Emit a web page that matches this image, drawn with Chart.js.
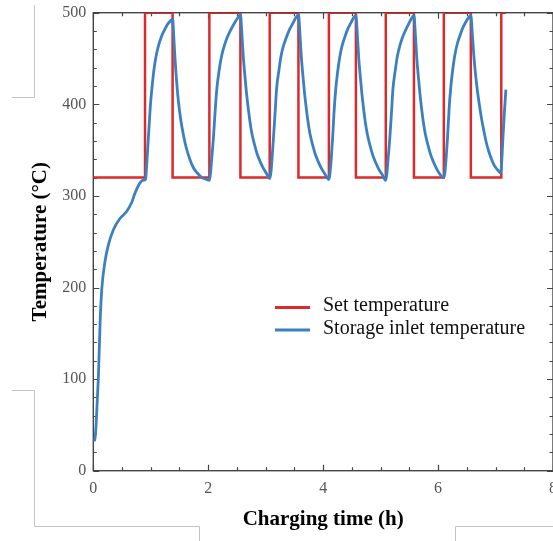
<!DOCTYPE html>
<html><head><meta charset="utf-8">
<script src="https://cdn.jsdelivr.net/npm/chart.js@4/dist/chart.umd.min.js"></script>
<style>html,body{margin:0;padding:0;background:#fff;}canvas{display:block;}</style>
</head><body>
<canvas id="c" width="553" height="541"></canvas>
<script>
// ---- data ----
const setTimes = [0, 0.90, 1.38, 2.02, 2.56, 3.07, 3.57, 4.10, 4.57, 5.09, 5.58, 6.10, 6.57, 7.10, 7.18];
const setTemps = [320, 500, 320, 500, 320, 500, 320, 500, 320, 500, 320, 500, 320, 500, 500];

const inletTimes = [
  0.02, 0.035, 0.05, 0.07, 0.09, 0.12, 0.15, 0.20, 0.26, 0.35, 0.46, 0.58, 0.67, 0.72, 0.80, 0.86, 0.91,
  0.925, 0.945, 0.97, 0.995, 1.02, 1.05, 1.085, 1.13, 1.18, 1.23, 1.29, 1.34, 1.38,
  1.40, 1.42, 1.45, 1.48, 1.52, 1.57, 1.62, 1.68, 1.74, 1.81, 1.89, 1.97, 2.02,
  2.04, 2.06, 2.09, 2.12, 2.15, 2.19, 2.23, 2.28, 2.33, 2.39, 2.45, 2.51, 2.56,
  2.585, 2.61, 2.64, 2.67, 2.72, 2.76, 2.81, 2.85, 2.90, 2.96, 3.02, 3.07,
  3.09, 3.11, 3.135, 3.165, 3.19, 3.23, 3.265, 3.31, 3.36, 3.41, 3.47, 3.52, 3.57,
  3.595, 3.62, 3.65, 3.68, 3.73, 3.77, 3.82, 3.86, 3.91, 3.97, 4.03, 4.10,
  4.12, 4.14, 4.165, 4.19, 4.22, 4.255, 4.29, 4.33, 4.375, 4.42, 4.475, 4.525, 4.57,
  4.595, 4.62, 4.65, 4.68, 4.73, 4.77, 4.82, 4.86, 4.91, 4.97, 5.03, 5.09,
  5.11, 5.13, 5.16, 5.19, 5.215, 5.255, 5.29, 5.335, 5.38, 5.435, 5.49, 5.54, 5.58,
  5.605, 5.63, 5.66, 5.69, 5.74, 5.78, 5.83, 5.87, 5.92, 5.98, 6.04, 6.10,
  6.12, 6.14, 6.165, 6.19, 6.22, 6.255, 6.29, 6.33, 6.375, 6.42, 6.475, 6.525, 6.57,
  6.595, 6.62, 6.65, 6.68, 6.72, 6.76, 6.80, 6.84, 6.88, 6.93, 6.98, 7.04, 7.09,
  7.11, 7.13, 7.155, 7.18
];
const inletTemps = [
  32, 38, 52, 78, 105, 165, 200, 227, 246, 263, 275, 283, 293, 302, 313, 317, 318,
  330, 350, 375, 400, 417, 435, 450, 463, 473, 480, 487, 491, 493,
  475, 452, 425, 404, 384, 366, 352, 340, 331, 325, 320, 318, 317,
  325, 340, 363, 392, 417, 437, 452, 464, 473, 481, 488, 494, 498,
  478, 452, 430, 410, 384, 368, 355, 346, 338, 330, 324, 319,
  325, 340, 363, 392, 417, 437, 452, 464, 473, 481, 488, 494, 498,
  478, 452, 430, 410, 384, 368, 355, 346, 338, 330, 324, 318,
  325, 340, 363, 392, 417, 437, 452, 464, 473, 481, 488, 494, 497,
  476, 450, 428, 408, 382, 367, 354, 345, 337, 329, 323, 317,
  325, 340, 363, 392, 417, 437, 452, 464, 473, 481, 488, 494, 497,
  476, 450, 428, 408, 382, 367, 354, 345, 337, 329, 323, 320,
  326, 341, 364, 393, 418, 438, 453, 465, 474, 482, 489, 494, 497,
  478, 455, 434, 417, 399, 383, 370, 358, 349, 340, 333, 328, 325,
  340, 365, 392, 416
];

const xTickValues = [0, 2, 4, 6, 8];
const yTickValues = [0, 100, 200, 300, 400, 500];
const seriesNames = ['Set temperature', 'Storage inlet temperature'];
const seriesColors = ['#dc2a2c', '#3b80bf'];
const xTitle = 'Charging time (h)';
const yTitle = 'Temperature (°C)';

const SERIF = "'Liberation Serif', 'DejaVu Serif', serif";

const setData = setTimes.map((t, i) => ({x: t, y: setTemps[i]}));
const inletData = inletTimes.map((t, i) => ({x: t, y: inletTemps[i]}));

// frame with inward ticks on all four sides
const framePlugin = {
  id: 'frame',
  beforeDatasetsDraw(chart) {
    const {ctx, chartArea: a, scales: {x, y}} = chart;
    ctx.save();
    ctx.strokeStyle = '#444';
    ctx.lineWidth = 1.4;
    ctx.strokeRect(a.left, a.top, a.right - a.left, a.bottom - a.top);
    ctx.lineWidth = 1.2;
    ctx.beginPath();
    for (let v = 0; v <= 8.001; v += 0.5) {
      const px = Math.round(x.getPixelForValue(v)) + 0.5;
      const major = Math.abs(v / 2 - Math.round(v / 2)) < 1e-6;
      const len = major ? 6 : 3.5;
      ctx.moveTo(px, a.bottom); ctx.lineTo(px, a.bottom - len);
      ctx.moveTo(px, a.top); ctx.lineTo(px, a.top + len);
    }
    for (let v = 0; v <= 500.001; v += 20) {
      const py = Math.round(y.getPixelForValue(v)) + 0.5;
      const major = v % 100 === 0;
      const len = major ? 6 : 3.5;
      ctx.moveTo(a.left, py); ctx.lineTo(a.left + len, py);
      ctx.moveTo(a.right, py); ctx.lineTo(a.right - len, py);
    }
    ctx.stroke();
    ctx.restore();
  }
};

// legend inside the plot
const legendPlugin = {
  id: 'inlineLegend',
  afterDatasetsDraw(chart) {
    const {ctx} = chart;
    ctx.save();
    ctx.font = '20px ' + SERIF;
    ctx.fillStyle = '#111';
    ctx.textAlign = 'left';
    ctx.textBaseline = 'alphabetic';
    const rows = [307.5, 330];
    seriesNames.forEach((name, i) => {
      const yy = rows[i];
      ctx.strokeStyle = seriesColors[i];
      ctx.lineWidth = 3;
      ctx.beginPath(); ctx.moveTo(275, yy); ctx.lineTo(310, yy); ctx.stroke();
      ctx.fillText(name, 323, yy + 3.5);
    });
    ctx.restore();
  }
};

// faint screenshot guide lines present in the reference
const guidePlugin = {
  id: 'guides',
  afterDraw(chart) {
    const {ctx} = chart;
    ctx.save();
    ctx.strokeStyle = '#c4c4c4';
    ctx.lineWidth = 1;
    ctx.beginPath();
    ctx.moveTo(34.5, 5); ctx.lineTo(34.5, 97.5); ctx.lineTo(12, 97.5);
    ctx.moveTo(12, 390.5); ctx.lineTo(34.5, 390.5); ctx.lineTo(34.5, 526.5); ctx.lineTo(199.5, 526.5); ctx.lineTo(199.5, 541);
    ctx.moveTo(455.5, 541); ctx.lineTo(455.5, 526.5); ctx.lineTo(553, 526.5);
    ctx.stroke();
    ctx.restore();
  }
};

new Chart(document.getElementById('c'), {
  type: 'line',
  data: {
    datasets: [
      {
        label: seriesNames[0], data: setData, borderColor: seriesColors[0], backgroundColor: seriesColors[0],
        borderWidth: 2.5, pointRadius: 0, stepped: true, fill: false, order: 1
      },
      {
        label: seriesNames[1], data: inletData, borderColor: seriesColors[1], backgroundColor: seriesColors[1],
        borderWidth: 2.8, pointRadius: 0, cubicInterpolationMode: 'monotone', fill: false, order: 0
      }
    ]
  },
  options: {
    responsive: false,
    devicePixelRatio: 1,
    animation: false,
    layout: {padding: {top: 12.7, right: 0, bottom: 0, left: 0}},
    plugins: {legend: {display: false}, tooltip: {enabled: false}},
    scales: {
      x: {
        type: 'linear', min: 0, max: 8,
        afterBuildTicks: s => { s.ticks = xTickValues.map(v => ({value: v})); },
        afterFit: s => { s.height = 70.3; s.paddingLeft = 0; s.paddingRight = 0; },
        grid: {display: false, drawTicks: false},
        border: {display: false},
        ticks: {color: '#555', padding: 8, font: {family: SERIF, size: 16}, maxRotation: 0, autoSkip: false},
        title: {display: true, text: xTitle, color: '#000', font: {family: SERIF, size: 21, weight: 'bold'}, padding: {top: 0, bottom: 9}}
      },
      y: {
        type: 'linear', min: 0, max: 500,
        afterBuildTicks: s => { s.ticks = yTickValues.map(v => ({value: v})); },
        afterFit: s => { s.width = 93.3; s.paddingTop = 0; s.paddingBottom = 0; },
        grid: {display: false, drawTicks: false},
        border: {display: false},
        ticks: {color: '#555', padding: 7, font: {family: SERIF, size: 16}, autoSkip: false},
        title: {display: true, text: yTitle, color: '#000', font: {family: SERIF, size: 21, weight: 'bold'}, padding: {top: 28, bottom: 0}}
      }
    }
  },
  plugins: [framePlugin, legendPlugin, guidePlugin]
});
</script>
</body></html>
